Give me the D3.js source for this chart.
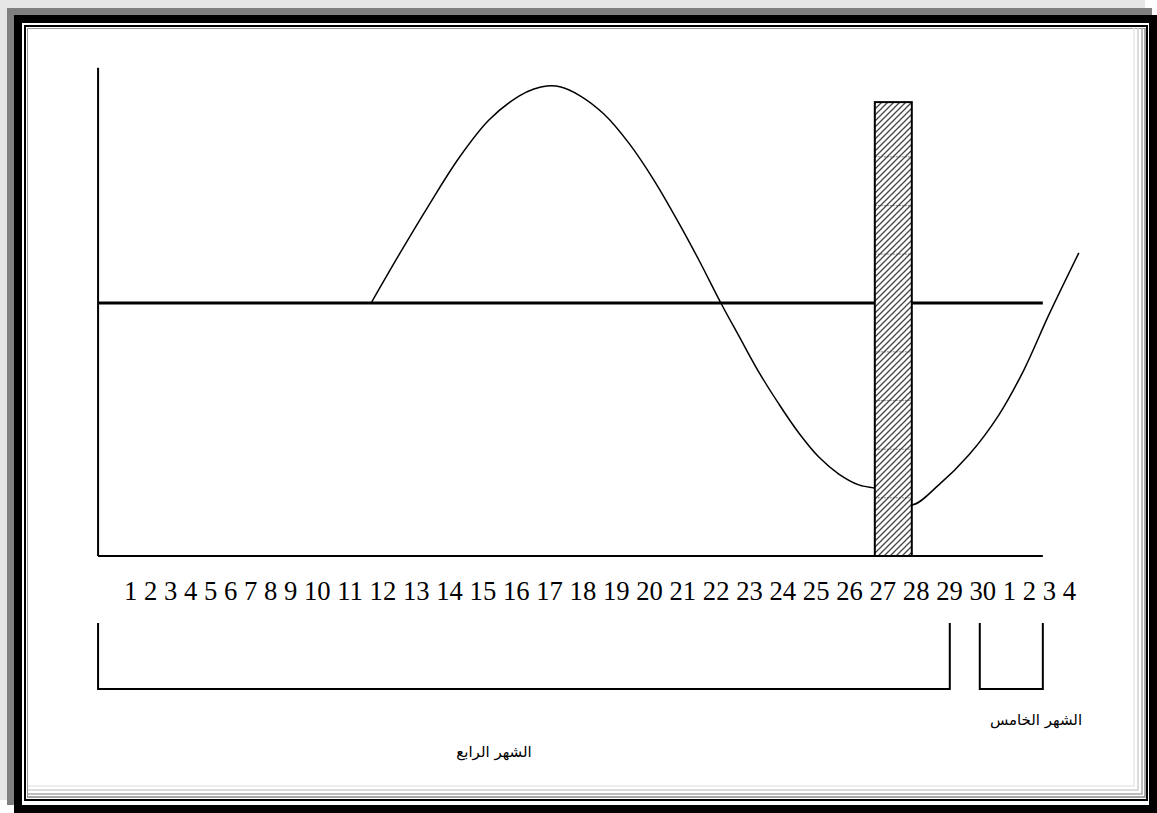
<!DOCTYPE html>
<html>
<head>
<meta charset="utf-8">
<script src="https://cdn.jsdelivr.net/npm/d3@7"></script>
<style>
  body { margin: 0; background: #fff; }
  svg { display: block; }
</style>
</head>
<body>
<svg id="chart" width="1157" height="813"></svg>
<script>
// Day labels along the bottom: month four (1–30) then the start of month five (1–4)
const dayLabels = ["1","2","3","4","5","6","7","8","9","10","11","12","13","14","15","16","17","18","19","20",
                   "21","22","23","24","25","26","27","28","29","30","1","2","3","4"];

// Curve: position in label slots (0 = first "1") and level (0 = reference line)
const curveSlot  = [10.64, 11.48, 12.38, 13.28, 14.18, 15.08, 15.53, 15.92, 16.34, 16.88, 17.63, 18.38, 19.13,
                    19.88, 20.48, 21.14, 21.68, 22.28, 22.88, 23.48, 24.08, 24.68, 25.28, 25.88, 26.36,
                    26.87, 27.68, 28.58, 29.60, 30.72, 31.97, 33.47];
const curveValue = [0.000, 0.190, 0.387, 0.573, 0.723, 0.818, 0.846, 0.858, 0.854, 0.822, 0.747, 0.632, 0.486,
                    0.316, 0.170, 0.000, -0.130, -0.273, -0.399, -0.514, -0.609, -0.676, -0.719, -0.735, -0.763,
                    -0.798, -0.719, -0.601, -0.443, -0.265, -0.047, 0.198];

// Shaded column (slot range and height) and the seams across it
const barSlots = [25.76, 26.87];
const barValue = 0.794;
const barSeams = [0.578, 0.385, 0.193, -0.193, -0.385, -0.578, -0.770];

// Reference level, axis extent
const levelValue = 0;
const axisSlots = [-1.63, 31.67];
const axisTopValue = 0.93;

// Month brackets under the labels
const monthNames = ["الشهر الرابع", "الشهر الخامس"];
const monthSpans = [[-1.63, 28.01], [28.91, 31.67]];

const svg = d3.select("#chart");

// ---- page frame (3D double border) ----
const frame = svg.append("g");
frame.append("rect").attr("x", 0).attr("y", 0).attr("width", 1145).attr("height", 800).attr("fill", "#e6e6e6");
frame.append("rect").attr("x", 7).attr("y", 8).attr("width", 1145).attr("height", 797).attr("fill", "#808080");
frame.append("rect").attr("x", 14).attr("y", 15).attr("width", 1143).attr("height", 798).attr("fill", "#000");
frame.append("rect").attr("x", 22).attr("y", 23).attr("width", 1127).attr("height", 782).attr("fill", "#fff");
// inner thin line
frame.append("rect").attr("x", 25).attr("y", 26).attr("width", 1122).attr("height", 774)
  .attr("fill", "none").attr("stroke", "#000").attr("stroke-width", 2);
frame.append("path").attr("d", "M27.5,798 V28.5 H1145").attr("fill", "none").attr("stroke", "#999").attr("stroke-width", 1);
// inner bevel shading on right and bottom
const shades = [["#e8e8e8", 13], ["#d0d0d0", 9], ["#a8a8a8", 5], ["#888", 2]];
shades.forEach(([c, off]) => {
  frame.append("path")
    .attr("d", `M${1147 - off},28 V${799 - off} H28`)
    .attr("fill", "none").attr("stroke", c).attr("stroke-width", 1.5);
});

// ---- day labels, laid out as a run of text ----
const labelSize = 26.67;
const labelG = svg.append("g")
  .attr("font-family", "'Liberation Serif', 'Times New Roman', serif")
  .attr("font-size", labelSize)
  .attr("fill", "#000");
let pen = 124;
const centers = [];
dayLabels.forEach(l => {
  const t = labelG.append("text").attr("x", pen).attr("y", 600).text(l);
  const w = t.node().getComputedTextLength();
  centers.push(pen + w / 2);
  pen += w + labelSize * 0.25;
});

// x: label slot -> pixel (piecewise through label centres)
const x = d3.scaleLinear().domain(d3.range(dayLabels.length)).range(centers);
// y: level -> pixel
const y = d3.scaleLinear().domain([-1, 1]).range([556, 50]);

// ---- curve ----
const pts = curveSlot.map((s, i) => [s, curveValue[i]]);
svg.append("path")
  .datum(pts)
  .attr("fill", "none")
  .attr("stroke", "#000")
  .attr("stroke-width", 1.5)
  .attr("d", d3.line().x(d => x(d[0])).y(d => y(d[1])).curve(d3.curveCatmullRom.alpha(0.5)));

// ---- reference line ----
svg.append("line")
  .attr("x1", x(axisSlots[0])).attr("x2", x(axisSlots[1]))
  .attr("y1", y(levelValue)).attr("y2", y(levelValue))
  .attr("stroke", "#000").attr("stroke-width", 3);

// ---- axes ----
svg.append("line")
  .attr("x1", x(axisSlots[0])).attr("x2", x(axisSlots[0]))
  .attr("y1", y(axisTopValue)).attr("y2", y(-1))
  .attr("stroke", "#000").attr("stroke-width", 2);
svg.append("line")
  .attr("x1", x(axisSlots[0])).attr("x2", x(axisSlots[1]))
  .attr("y1", y(-1)).attr("y2", y(-1))
  .attr("stroke", "#000").attr("stroke-width", 2);

// ---- hatched column ----
const defs = svg.append("defs");
const pat = defs.append("pattern").attr("id", "hatch")
  .attr("patternUnits", "userSpaceOnUse").attr("width", 6).attr("height", 6);
pat.append("rect").attr("width", 6).attr("height", 6).attr("fill", "#fff");
pat.append("path").attr("d", "M-1,1 L1,-1 M0,6 L6,0 M5,7 L7,5")
  .attr("stroke", "#444").attr("stroke-width", 1.3);
const bx0 = x(barSlots[0]), bx1 = x(barSlots[1]);
svg.append("rect")
  .attr("x", bx0).attr("y", y(barValue))
  .attr("width", bx1 - bx0)
  .attr("height", y(-1) - y(barValue))
  .attr("fill", "url(#hatch)");
svg.append("g").selectAll("line").data(barSeams).join("line")
  .attr("x1", bx0).attr("x2", bx1)
  .attr("y1", d => y(d)).attr("y2", d => y(d))
  .attr("stroke", "#333").attr("stroke-width", 1).attr("stroke-dasharray", "2,1")
  .attr("opacity", 0.6);
svg.append("rect")
  .attr("x", bx0).attr("y", y(barValue))
  .attr("width", bx1 - bx0)
  .attr("height", y(-1) - y(barValue))
  .attr("fill", "none")
  .attr("stroke", "#000").attr("stroke-width", 2);

// ---- month brackets ----
const bTop = 623, bBottom = 689;
monthSpans.forEach(([a, b]) => {
  svg.append("path")
    .attr("d", `M${x(a)},${bTop} V${bBottom} H${x(b)} V${bTop}`)
    .attr("fill", "none").attr("stroke", "#000").attr("stroke-width", 2);
});

// ---- month names ----
const nameG = svg.append("g")
  .attr("font-family", "'DejaVu Sans', 'Noto Sans', sans-serif")
  .attr("font-size", 15)
  .attr("fill", "#000")
  .attr("text-anchor", "middle");
nameG.append("text").attr("x", 494).attr("y", 757).attr("direction", "rtl").text(monthNames[0]);
nameG.append("text").attr("x", 1036).attr("y", 725).attr("direction", "rtl").text(monthNames[1]);
</script>
</body>
</html>
